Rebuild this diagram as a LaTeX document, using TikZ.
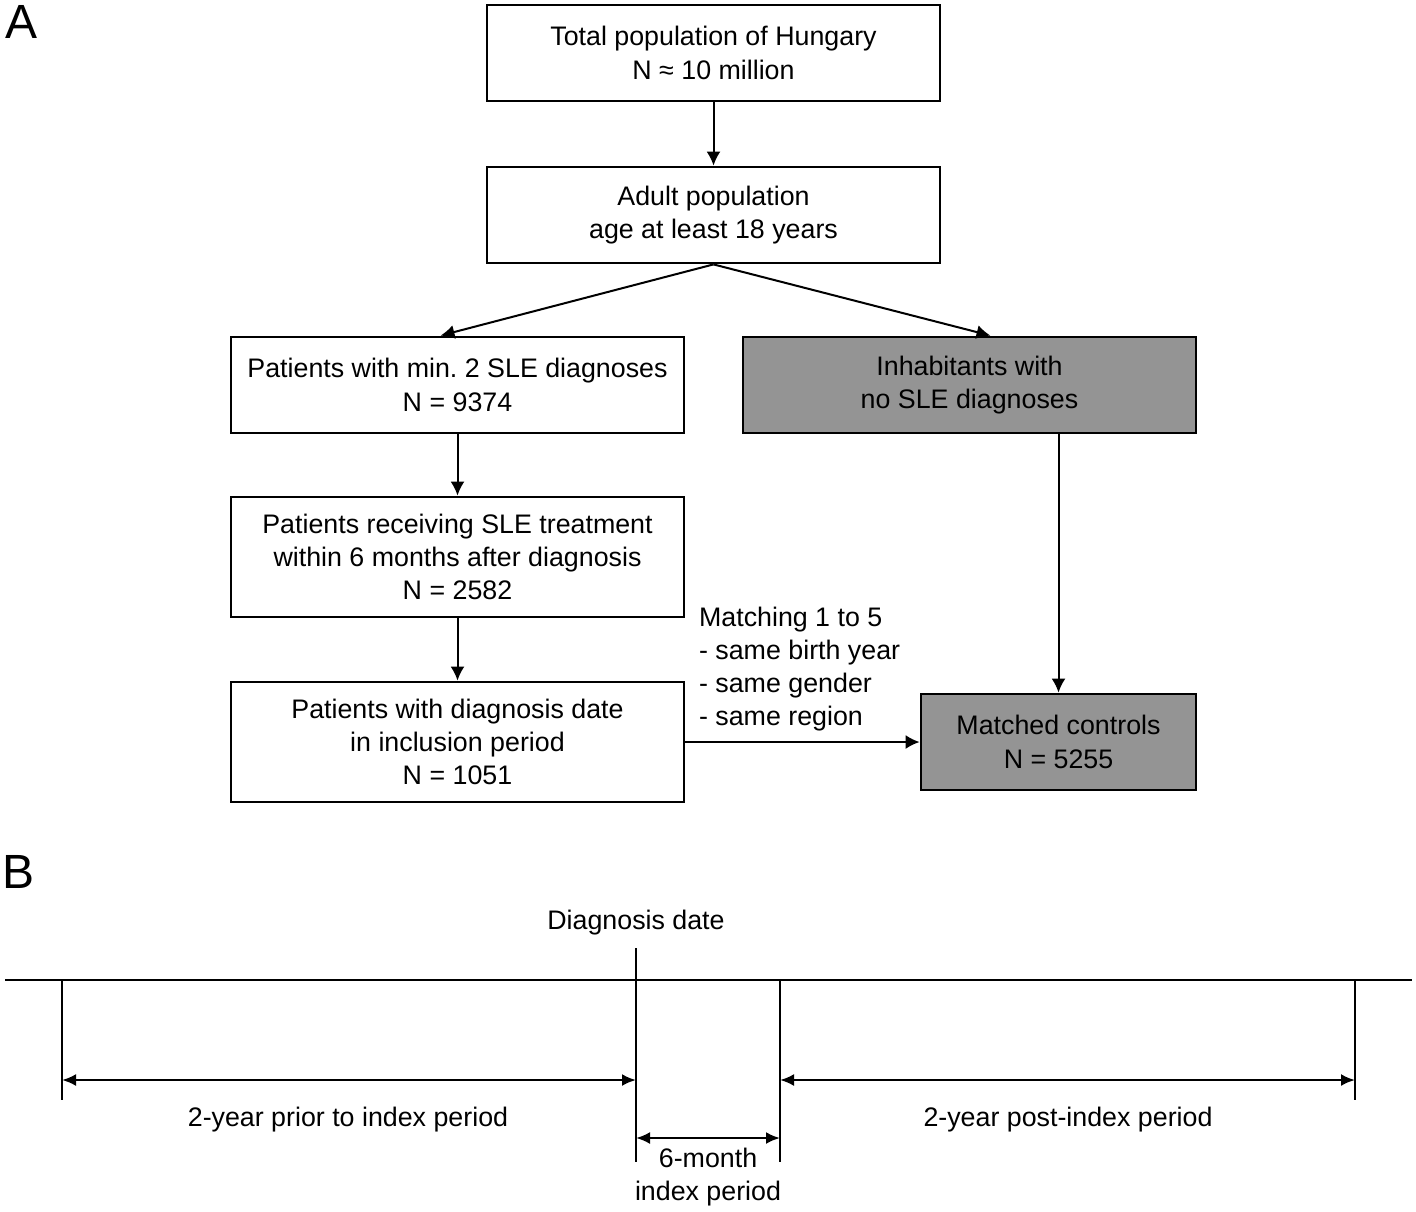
\documentclass[tikz,border=0pt]{standalone}
\usepackage{fontspec}
\setmainfont{Liberation Sans}
\usetikzlibrary{arrows.meta}
\definecolor{boxgray}{RGB}{148,148,148}
\frenchspacing
\begin{document}
\begin{tikzpicture}[x=0.5pt,y=-0.5pt,
  every node/.style={font=\fontsize{13.4}{16.6}\selectfont},
  flowbox/.style={draw, line width=1.4pt, minimum width=226.5pt, minimum height=48pt, inner sep=0pt, align=center, fill=white},
  graybox/.style={flowbox, fill=boxgray},
  arr/.style={line width=1pt, -{Latex[length=7pt,width=7pt]}},
  tl/.style={line width=1pt},
  dbl/.style={line width=1.2pt, {Latex[length=7pt,width=6pt]}-{Latex[length=7pt,width=6pt]}},
  panel/.style={font=\fontsize{24}{28}\selectfont}
]
\useasboundingbox[fill=white] (0,0) rectangle (1416,1211);

% Panel labels
\node[panel] (A) at (22,22) {A};
\node[panel] (B) at (19,872) {B};

% Flowchart boxes
\node[flowbox] (b1) at (713.5,53) {Total population of Hungary\\N ≈ 10 million};
\node[flowbox] (b2) at (713.5,215) {Adult population\\age at least 18 years};
\node[flowbox] (b3) at (457.5,385) {Patients with min. 2 SLE diagnoses\\N = 9374};
\node[graybox] (b4) at (969.5,385) {Inhabitants with\\no SLE diagnoses};
\node[flowbox, minimum height=60pt] (b5) at (457.5,557) {Patients receiving SLE treatment\\within 6 months after diagnosis\\N = 2582};
\node[flowbox, minimum height=60pt] (b6) at (457.5,742) {Patients with diagnosis date\\in inclusion period\\N = 1051};
\node[graybox, minimum width=137.5pt] (b7) at (1058.5,742) {Matched controls\\N = 5255};

\node[anchor=west, align=left] (match) at (692,669) {Matching 1 to 5\\- same birth year\\- same gender\\- same region};

% Connectors
\draw[arr] (b1.south) -- (b2.north);
\draw[arr] (b2.south) -- ([xshift=-8.5pt]b3.north);
\draw[arr] (b2.south) -- ([xshift=10.5pt]b4.north);
\draw[arr] (b3.south) -- (b5.north);
\draw[arr] (b5.south) -- (b6.north);
\draw[arr] (b7.north |- b4.south) -- (b7.north);
\draw[arr] (b6.east) -- (b7.west);

% Timeline
\coordinate (tl0) at (5,980);
\coordinate (tl1) at (1412,980);
\coordinate (p0) at (62,980);
\coordinate (p1) at (636,980);
\coordinate (p2) at (780,980);
\coordinate (p3) at (1355,980);
\draw[tl] (tl0) -- (tl1);
\draw[tl] (636,948) -- (636,1162);
\draw[tl] (p0) -- (62,1100);
\draw[tl] (p2) -- (780,1162);
\draw[tl] (p3) -- (1355,1100);

\node (dd) at (636,923) {Diagnosis date};
\draw[dbl] (62,1080) -- (636,1080);
\draw[dbl] (780,1080) -- (1355,1080);
\draw[dbl] (636,1138) -- (780,1138);
\node (pre) at (348,1120) {2-year prior to index period};
\node (post) at (1068,1120) {2-year post-index period};
\node[align=center] (idx) at (708,1177) {6-month\\index period};
\end{tikzpicture}
\end{document}
